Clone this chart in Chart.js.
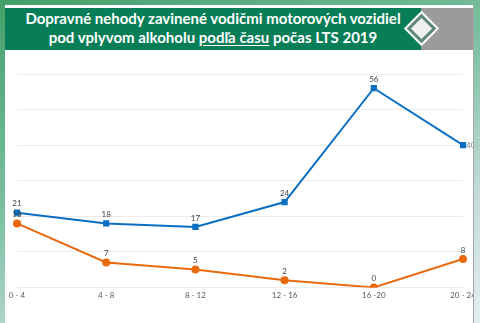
<!DOCTYPE html>
<html lang="sk">
<head>
<meta charset="utf-8">
<title>Dopravné nehody podľa času</title>
<script src="https://cdn.jsdelivr.net/npm/chart.js"></script>
<style>
  html, body { margin: 0; padding: 0; }
  body {
    width: 480px; height: 323px; overflow: hidden; position: relative;
    background: linear-gradient(160deg, #43a06a 0%, #7fc2a4 45%, #c6dcdc 75%, #e4edf1 100%);
    font-family: Lato, "Open Sans", sans-serif;
  }
  #card {
    position: absolute; left: 5px; top: 5px; width: 468px; height: 330px;
    background: #fff; border-right: 1px solid #a6a6a6; overflow: hidden;
  }
  #head-green {
    position: absolute; left: 0; top: 3px; width: 416px; height: 42px;
    background: #077e57;
  }
  #head-grey {
    position: absolute; left: 416px; top: 3px; width: 52px; height: 42px;
    background: #9b9b9b;
  }
  #diamond {
    position: absolute; left: 406px; top: 13px; width: 15px; height: 15px;
    background: #efefef; border: 3px solid #5f8a78;
    box-shadow: 0 0 0 2px #fff;
    transform: rotate(45deg);
  }
  #title {
    position: absolute; left: 0; top: 4px; width: 416px;
    color: #fff; font-weight: 700; font-size: 15px; line-height: 19px;
    text-align: center;
  }
  #title u { text-decoration-thickness: 1px; text-underline-offset: 2px; }
  #chart { position: absolute; left: 0; top: 49px; }
</style>
</head>
<body>
<div id="card">
  <div id="head-green"></div>
  <div id="head-grey"></div>
  <div id="diamond"></div>
  <div id="title">Dopravné nehody zavinené vodičmi motorových vozidiel<br>pod vplyvom alkoholu <u>podľa času</u> počas LTS 2019</div>
  <canvas id="chart" width="475" height="269"></canvas>
</div>
<script>
  // hodinové intervaly
  const categories = ['0 - 4', '4 - 8', '8 - 12', '12 - 16', '16 -20', '20 - 24'];
  const blueValues = [21, 18, 17, 24, 56, 40];
  const orangeValues = [18, 7, 5, 2, 0, 8];

  // popisky hodnôt nad bodmi
  const valueLabels = {
    id: 'valueLabels',
    afterDatasetsDraw(chart) {
      const ctx = chart.ctx;
      ctx.save();
      ctx.font = '8px Lato, "Open Sans", sans-serif';
      ctx.textBaseline = 'middle';
      chart.data.datasets.forEach((ds, i) => {
        const meta = chart.getDatasetMeta(i);
        meta.data.forEach((pt, j) => {
          const last = i === 0 && j === ds.data.length - 1;
          if (last) {
            ctx.fillStyle = '#6f7f94';
            ctx.textAlign = 'left';
            ctx.fillText(ds.data[j], pt.x + 3, pt.y);
          } else {
            ctx.fillStyle = '#404040';
            ctx.textAlign = 'center';
            ctx.fillText(ds.data[j], pt.x, pt.y - 9);
          }
        });
      });
      ctx.restore();
    }
  };

  new Chart(document.getElementById('chart'), {
    type: 'line',
    data: {
      labels: categories,
      datasets: [{
        data: blueValues,
        borderColor: '#0a6fc2',
        backgroundColor: '#0a6fc2',
        borderWidth: 2,
        pointStyle: 'rect',
        pointRadius: 3,
        tension: 0
      }, {
        data: orangeValues,
        borderColor: '#e9690c',
        backgroundColor: '#e9690c',
        borderWidth: 2,
        pointStyle: 'circle',
        pointRadius: 3,
        tension: 0
      }]
    },
    options: {
      responsive: false,
      animation: false,
      layout: { padding: { left: 12, right: 17, top: 20, bottom: 20 } },
      plugins: { legend: { display: false }, tooltip: { enabled: false } },
      scales: {
        x: {
          offset: false,
          grid: { display: false, drawTicks: false },
          border: { display: false },
          ticks: { color: '#595959', font: { size: 8, family: 'Lato, "Open Sans", sans-serif' }, padding: 3, maxRotation: 0, autoSkip: false }
        },
        y: {
          min: 0, max: 60,
          ticks: { display: false, stepSize: 10 },
          grid: { color: '#ececec', lineWidth: 1, drawTicks: false },
          border: { display: false }
        }
      }
    },
    plugins: [valueLabels]
  });
</script>
</body>
</html>
